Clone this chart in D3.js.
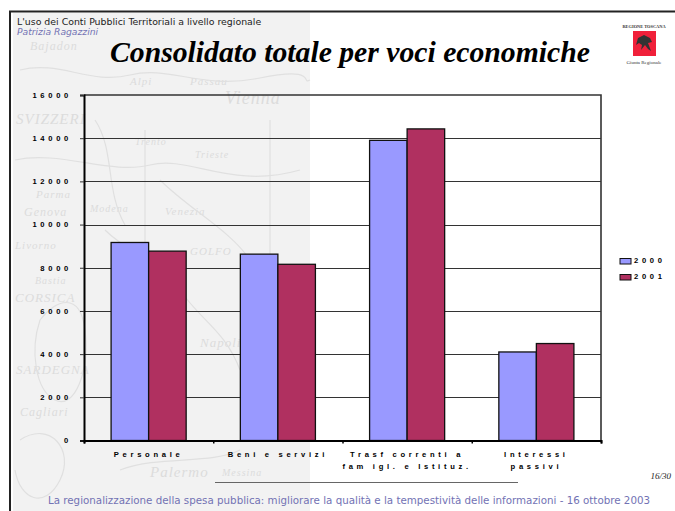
<!DOCTYPE html>
<html>
<head>
<meta charset="utf-8">
<script src="https://cdn.jsdelivr.net/npm/d3@7"></script>
<style>
  html, body { margin: 0; padding: 0; background: #fff; overflow: hidden; }
  svg { display: block; }
  .tick text, .lab { font-family: "Liberation Sans", Arial, sans-serif; font-weight: bold; font-size: 7.6px; letter-spacing: 3.7px; fill: #000; }
  .place { font-family: "Liberation Serif", serif; font-style: italic; fill: #dcdcdc; }
</style>
</head>
<body>
<svg id="chart" width="675" height="511"></svg>
<script>
let categories = [["Personale"], ["Beni e servizi"], ["Trasf correnti a", "fam igl. e Istituz."], ["Interessi", "passivi"]];
let seriesNames = ["2000", "2001"];
let values2000 = [9170, 8630, 13900, 4100];
let values2001 = [8770, 8160, 14430, 4490];
let yTicks = [0, 2000, 4000, 6000, 8000, 10000, 12000, 14000, 16000];
let seriesColors = ["#9999ff", "#b03060"];

let svg = d3.select("#chart");
let plot = { left: 84, right: 601, top: 95, bottom: 440.5 };

// map in the slide background, only the left part of the slide has it
let bg = svg.append("g");
bg.append("rect").attr("x", 13).attr("y", 13).attr("width", 297).attr("height", 498).attr("fill", "#f2f2f2");
let places = [
    ["Bajadon", 30, 50, 12], ["Vienna", 225, 104, 18], ["SVIZZERI", 16, 124, 15], ["Trento", 135, 145, 10],
    ["Trieste", 195, 158, 10], ["Parma", 36, 198, 11], ["Genova", 24, 216, 12], ["Modena", 90, 212, 10],
    ["Venezia", 165, 215, 11], ["Livorno", 15, 249, 11], ["GOLFO", 190, 255, 11], ["Bastia", 35, 284, 10],
    ["CORSICA", 15, 302, 13], ["Napoli", 200, 347, 13], ["SARDEGNA", 16, 374, 13], ["Cagliari", 20, 416, 12],
    ["Palermo", 150, 477, 15], ["Messina", 222, 476, 10], ["Alpi", 130, 85, 11], ["Passau", 190, 85, 11]
];
bg.selectAll("text").data(places).join("text")
    .attr("class", "place")
    .attr("x", d => d[1])
    .attr("y", d => d[2])
    .attr("font-size", d => d[3])
    .attr("letter-spacing", 1)
    .text(d => d[0]);
let mapLines = [
    "M20 70C60 60 90 85 130 75S200 90 260 78 300 85 310 80",
    "M15 160C60 150 110 175 150 165S230 190 300 170",
    "M105 230C130 255 160 260 180 290S225 330 240 370",
    "M160 180C190 210 230 230 250 260S290 300 305 310",
    "M40 320C30 350 35 390 55 400S90 370 85 330 55 300 40 320",
    "M20 440C50 420 75 450 60 480S20 500 15 470",
    "M120 470C160 455 210 465 240 450",
    "M145 130V280M270 120V260",
    "M95 120C115 150 105 190 125 225"
];
bg.selectAll("path").data(mapLines).join("path")
    .attr("d", d => d).attr("fill", "none").attr("stroke", "#e0e0e0").attr("stroke-width", 1.2);

// slide frame
svg.append("path").attr("d", "M10 511V11.5H675").attr("fill", "none").attr("stroke", "#222").attr("stroke-width", 2);

// header and footer
svg.append("text").attr("x", 17).attr("y", 24.5)
    .attr("font-family", "DejaVu Sans").attr("font-size", 9.4).attr("fill", "#222")
    .text("L'uso dei Conti Pubblici Territoriali a livello regionale");
svg.append("text").attr("x", 17).attr("y", 35)
    .attr("font-family", "DejaVu Sans").attr("font-style", "italic").attr("font-size", 9.2).attr("fill", "#7272b4")
    .text("Patrizia Ragazzini");
svg.append("text").attr("x", 110).attr("y", 62)
    .attr("font-family", "Liberation Serif").attr("font-weight", "bold").attr("font-style", "italic")
    .attr("font-size", 29.7).attr("fill", "#000")
    .text("Consolidato totale per voci economiche");
svg.append("text").attr("x", 349).attr("y", 504).attr("text-anchor", "middle")
    .attr("font-family", "DejaVu Sans").attr("font-size", 10.3).attr("fill", "#7272b4")
    .text("La regionalizzazione della spesa pubblica: migliorare la qualità e la tempestività delle informazioni - 16 ottobre 2003");
svg.append("text").attr("x", 671).attr("y", 479).attr("text-anchor", "end")
    .attr("font-family", "Liberation Serif").attr("font-style", "italic").attr("font-size", 9).attr("fill", "#222")
    .text("16/30");
svg.append("line").attr("x1", 215).attr("x2", 518).attr("y1", 482.5).attr("y2", 482.5).attr("stroke", "#666");

// logo
let logo = svg.append("g");
logo.append("text").attr("x", 644).attr("y", 27.5).attr("text-anchor", "middle")
    .attr("font-family", "Liberation Serif").attr("font-size", 4.4).attr("font-weight", "bold").attr("fill", "#333")
    .text("REGIONE TOSCANA");
logo.append("rect").attr("x", 633).attr("y", 31).attr("width", 23).attr("height", 25).attr("fill", "#f0203a");
logo.append("path").attr("d", "M638 38L644 35 650 38 652 42 648 43 651 51 648 49 645 45 641 50 642 45 639 43 636 45Z").attr("fill", "#333");
logo.append("text").attr("x", 644).attr("y", 64).attr("text-anchor", "middle")
    .attr("font-family", "Liberation Serif").attr("font-size", 5).attr("fill", "#333")
    .text("Giunta Regionale");

// scales
let x = d3.scaleBand().domain(d3.range(categories.length)).range([plot.left, plot.right]);
let inner = d3.scaleBand().domain(seriesNames).range([0, x.bandwidth()]).paddingOuter(27 / 37.4).paddingInner(0);
let y = d3.scaleLinear().domain([0, 16000]).range([plot.bottom, plot.top]);

// gridlines
svg.append("g").selectAll("line").data(yTicks.slice(1, -1)).join("line")
    .attr("x1", plot.left).attr("x2", plot.right)
    .attr("y1", d => Math.round(y(d)) + 0.5).attr("y2", d => Math.round(y(d)) + 0.5)
    .attr("stroke", "#333").attr("stroke-width", 1);

// plot box top and right
svg.append("path").attr("d", `M${plot.left} ${plot.top}H${plot.right}V${plot.bottom}`)
    .attr("fill", "none").attr("stroke", "#333").attr("stroke-width", 1.6);

// bars
let seriesValues = [values2000, values2001];
seriesNames.forEach(function(name, s) {
    svg.append("g").selectAll("rect").data(seriesValues[s]).join("rect")
        .attr("x", (d, i) => x(i) + inner(name))
        .attr("y", d => y(d))
        .attr("width", inner.bandwidth())
        .attr("height", d => plot.bottom - y(d))
        .attr("fill", seriesColors[s])
        .attr("stroke", "#111")
        .attr("stroke-width", 1.3);
});

// axes
let yAxis = d3.axisLeft(y).tickValues(yTicks).tickSize(4).tickPadding(8).tickFormat(d3.format("d"));
let yG = svg.append("g").attr("transform", `translate(${plot.left},0)`).call(yAxis);
yG.select(".domain").attr("stroke", "#000").attr("stroke-width", 2);
yG.selectAll(".tick line").attr("stroke", "#333");
yG.selectAll(".tick text").attr("dy", "0.3em").attr("font-size", null).attr("font-family", null);

let xAxis = d3.axisBottom(d3.scaleLinear().domain([0, categories.length]).range([plot.left, plot.right]))
    .ticks(categories.length).tickSize(3).tickFormat("");
let xG = svg.append("g").attr("transform", `translate(0,${plot.bottom})`).call(xAxis);
xG.select(".domain").attr("stroke", "#000").attr("stroke-width", 2);
xG.selectAll(".tick line").attr("stroke", "#000").attr("stroke-width", 1.5);

// category labels
categories.forEach(function(lines, i) {
    svg.append("text").attr("class", "lab")
        .attr("text-anchor", "middle")
        .selectAll("tspan").data(lines).join("tspan")
        .attr("x", x(i) + x.bandwidth() / 2)
        .attr("y", (d, j) => 457 + j * 12.3)
        .text(d => d);
});

// legend
let legend = svg.append("g").selectAll("g").data(seriesNames).join("g");
legend.append("rect")
    .attr("x", 620).attr("y", (d, i) => 258.5 + i * 16)
    .attr("width", 11).attr("height", 5.5)
    .attr("fill", (d, i) => seriesColors[i])
    .attr("stroke", "#111").attr("stroke-width", 1);
legend.append("text").attr("class", "lab")
    .attr("x", 634).attr("y", (d, i) => 262.7 + i * 16)
    .text(d => d);
</script>
</body>
</html>
